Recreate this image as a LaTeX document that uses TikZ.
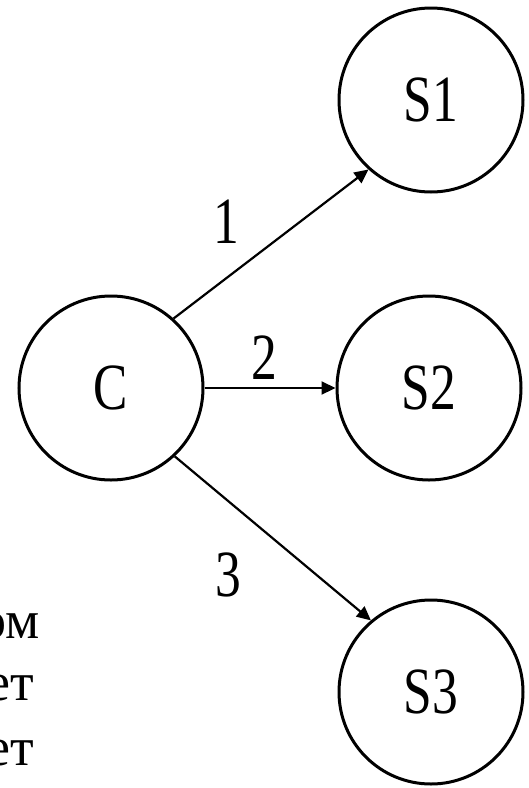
\documentclass[tikz,border=0pt]{standalone}
\usepackage{fontspec}
\setmainfont{Liberation Serif}
\newfontfamily\diagfont[FakeStretch=0.78]{Liberation Serif}
\usetikzlibrary{arrows.meta}

\tikzset{
  station/.style={draw, circle, line width=3pt, minimum size=184pt, inner sep=0pt,
    font=\diagfont\fontsize{66}{66}\selectfont},
  link/.style={line width=2.2pt, -{Triangle[length=14pt,width=13pt]}},
  num/.style={font=\diagfont\fontsize{66}{66}\selectfont, inner sep=0pt},
  side/.style={anchor=base east, inner sep=0pt, font=\fontsize{54}{54}\selectfont}
}

\begin{document}
\begin{tikzpicture}[x=1pt,y=-1pt]
\useasboundingbox (0,0) rectangle (529,788);

% client and servers
\node[station] (C) at (111,388) {C};
\node[station] (S1) at (431,100) {S1};
\node[station] (S2) at (429,388) {S2};
\node[station] (S3) at (431,692) {S3};

% requests
\draw[link] (C.48) -- (S1.228);
\draw[link] (C.east) -- (S2.west);
\draw[link] (C.-47) -- (S3.130);

% request numbers
\node[num] (n1) at (226,222) {1};
\node[num] (n2) at (264,358) {2};
\node[num] (n3) at (228,575) {3};

% text cut off at the left
\node[side] (t1) at (40,638) {ом};
\node[side] (t2) at (34,700) {ет};
\node[side] (t3) at (34,765) {ет};
\end{tikzpicture}
\end{document}
